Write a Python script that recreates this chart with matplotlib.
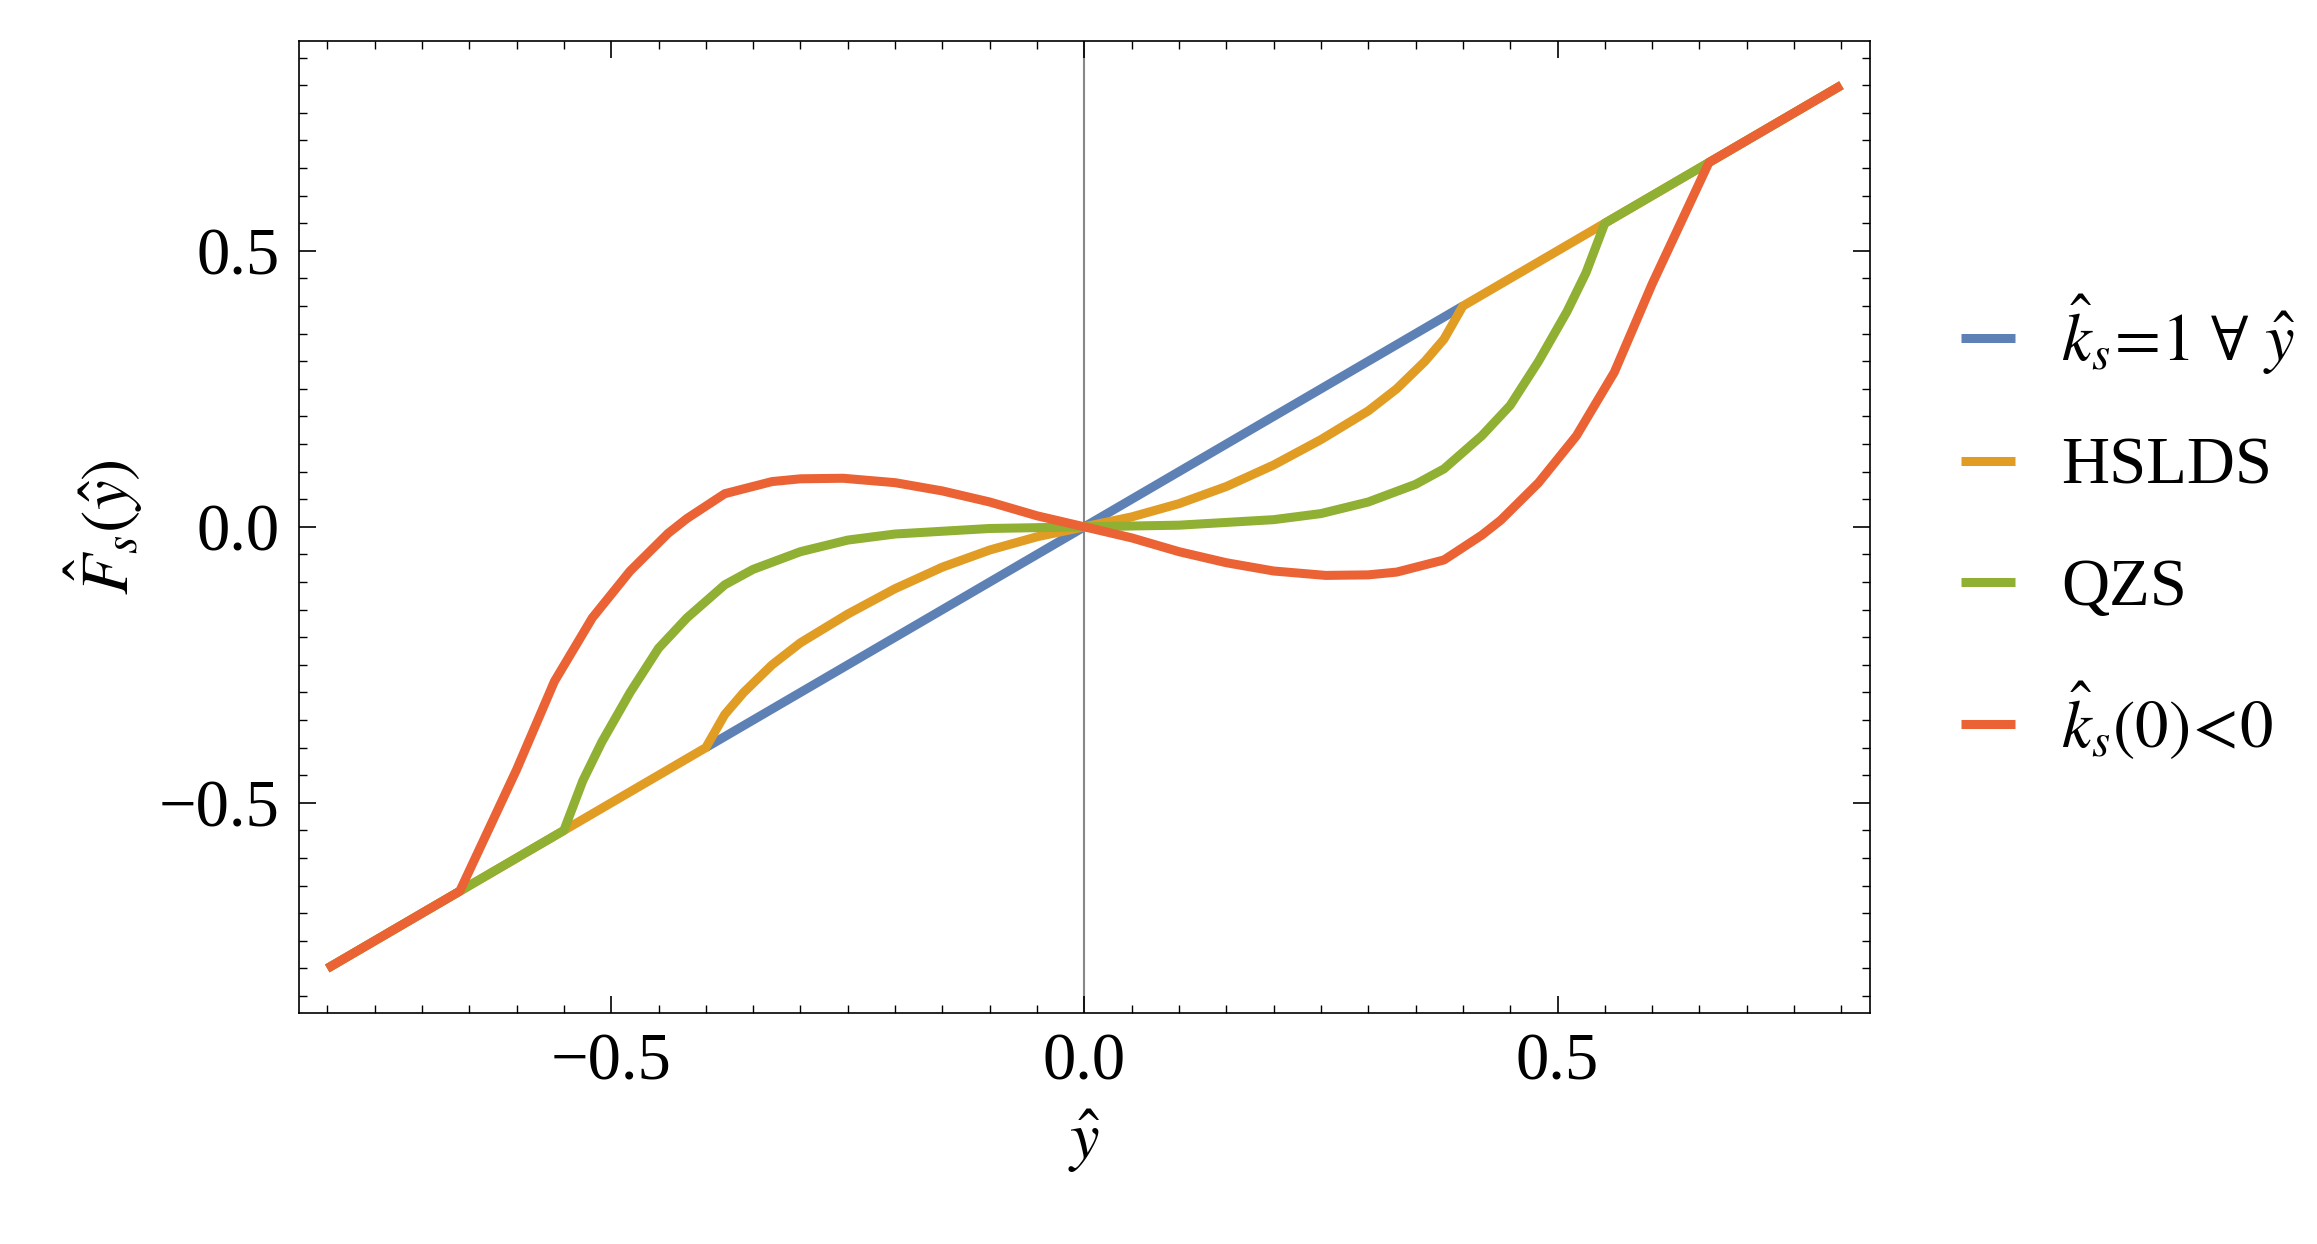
import numpy as np
import matplotlib.pyplot as plt
from matplotlib.ticker import MultipleLocator

# Points for x >= 0; the other half is mirrored (curves are odd)
lin_x = [0.0, 0.4]
lin_y = [0.0, 0.4]

hslds_x = [0.0, 0.05, 0.1, 0.15, 0.2, 0.25, 0.3, 0.33, 0.36, 0.38, 0.4, 0.8]
hslds_y = [0.0, 0.018, 0.042, 0.073, 0.112, 0.158, 0.21, 0.25, 0.30, 0.34, 0.4, 0.8]

qzs_x = [0.0, 0.1, 0.2, 0.25, 0.3, 0.35, 0.38, 0.42, 0.45, 0.48, 0.51, 0.53, 0.55, 0.8]
qzs_y = [0.0, 0.003, 0.013, 0.024, 0.045, 0.077, 0.105, 0.165, 0.22, 0.30, 0.39, 0.46, 0.55, 0.8]

neg_x = [0.0, 0.05, 0.1, 0.15, 0.2, 0.255, 0.3, 0.33, 0.38, 0.42, 0.44, 0.48, 0.52, 0.56, 0.6, 0.63, 0.66, 0.8]
neg_y = [0.0, -0.02, -0.045, -0.065, -0.08, -0.088, -0.087, -0.082, -0.06, -0.015, 0.012, 0.08, 0.165, 0.28, 0.44, 0.55, 0.66, 0.8]

labels = [r'$\hat{k}_s\!=\!1\ \forall\ \hat{y}$', 'HSLDS', 'QZS', r'$\hat{k}_s(0)\!<\!0$']
colors = ['#5E81B5', '#E19C24', '#8FB032', '#EB6235']


def odd(xs, ys):
    x = np.array(xs)
    y = np.array(ys)
    return np.concatenate([-x[::-1], x[1:]]), np.concatenate([-y[::-1], y[1:]])


plt.rcParams['font.family'] = ['Liberation Serif', 'DejaVu Serif']
plt.rcParams['mathtext.fontset'] = 'stix'

fig = plt.figure(figsize=(23.17, 12.44), dpi=100)
ax = fig.add_axes([0.129, 0.186, 0.678, 0.781])

ax.axvline(0, color='#888888', lw=1.5, zorder=0)
series = [(lin_x, lin_y), (hslds_x, hslds_y), (qzs_x, qzs_y), (neg_x, neg_y)]
for (xs, ys), c, lab in zip(series, colors, labels):
    x, y = odd(xs, ys)
    ax.plot(x, y, color=c, lw=6.5, label=lab, solid_capstyle='butt', solid_joinstyle='round')

ax.set_xlim(-0.83, 0.83)
ax.set_ylim(-0.88, 0.88)
ax.xaxis.set_minor_locator(MultipleLocator(0.05))
ax.yaxis.set_minor_locator(MultipleLocator(0.05))
ax.tick_params(which='both', direction='in', top=True, right=True, labelsize=48, pad=14)
ax.tick_params(which='major', length=12, width=1.2)
ax.tick_params(which='minor', length=6, width=1)
ax.set_xticks([-0.5, 0.0, 0.5])
ax.set_xticklabels(['\u22120.5', '0.0', '0.5'])
ax.set_yticks([-0.5, 0.0, 0.5])
ax.set_yticklabels(['\u22120.5', '0.0', '0.5'])
for s in ax.spines.values():
    s.set_linewidth(1.2)

ax.set_xlabel(r'$\hat{y}$', fontsize=48, labelpad=10)
ax.set_ylabel(r'$\hat{F}_s(\hat{y})$', fontsize=48, labelpad=10)

ax.legend(loc='center left', bbox_to_anchor=(1.02, 0.5), frameon=False, fontsize=48,
          handlelength=0.8, handletextpad=0.7, labelspacing=0.9)

fig.savefig('out.png', dpi=100)
